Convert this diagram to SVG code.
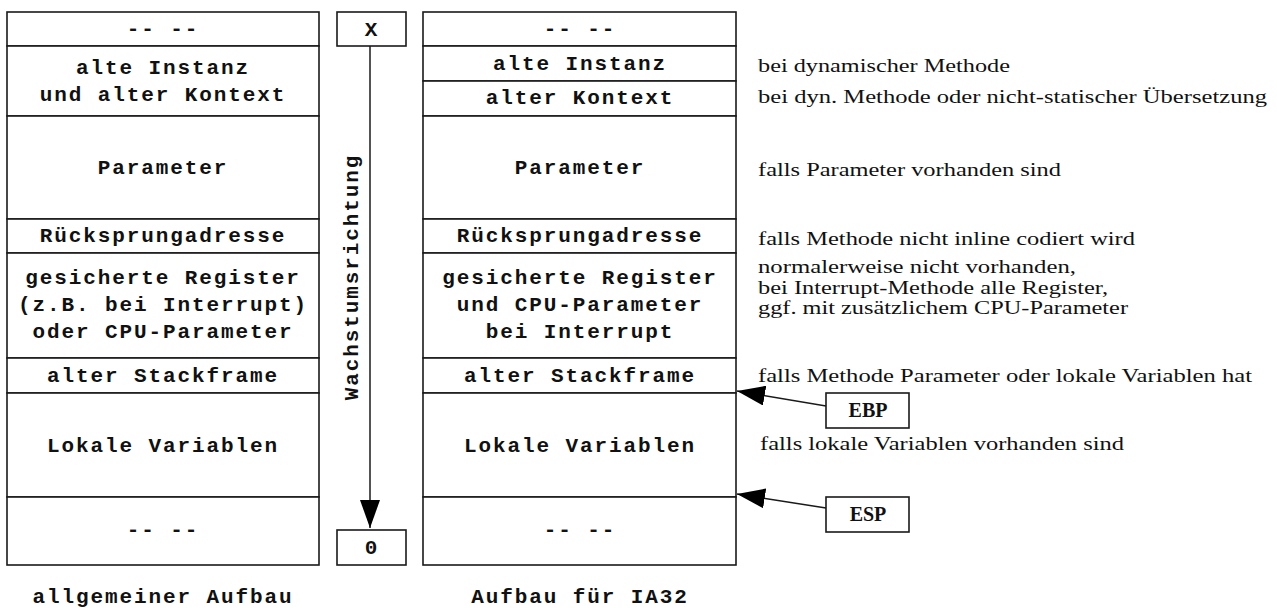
<svg xmlns="http://www.w3.org/2000/svg" width="1277" height="608" viewBox="0 0 1277 608">
<style>
.cell{fill:#fff;stroke:#1a1a1a;stroke-width:1.6}
.m{font-family:"Liberation Mono","Courier New",monospace;font-weight:bold;font-size:21px;letter-spacing:1.9px;fill:#111;text-anchor:middle}
.a{font-family:"Liberation Serif","Times New Roman",serif;font-size:18px;fill:#111}
.r{font-family:"Liberation Serif","Times New Roman",serif;font-weight:bold;font-size:20px;fill:#111;text-anchor:middle}
.c{stroke:#1a1a1a;stroke-width:1.5;fill:none}
</style>
<defs>
<marker id="ah" markerUnits="userSpaceOnUse" markerWidth="28" markerHeight="20" refX="28" refY="10" orient="auto" viewBox="0 0 28 20">
<path d="M0,0 L28,10 L0,20 z" fill="#000"/>
</marker>
</defs>
<rect width="1277" height="608" fill="#fff"/>

<g id="left-column">
<g id="l-top"><rect class="cell" x="7" y="12" width="312" height="34"/><text class="m" x="163" y="35">-- --</text></g>
<g id="l-instanz"><rect class="cell" x="7" y="46" width="312" height="70"/><text class="m" x="163" y="74">alte Instanz</text><text class="m" x="163" y="101">und alter Kontext</text></g>
<g id="l-parameter"><rect class="cell" x="7" y="116" width="312" height="103"/><text class="m" x="163" y="174">Parameter</text></g>
<g id="l-ruecksprung"><rect class="cell" x="7" y="219" width="312" height="34"/><text class="m" x="163" y="242">Rücksprungadresse</text></g>
<g id="l-register"><rect class="cell" x="7" y="253" width="312" height="105"/><text class="m" x="163" y="284">gesicherte Register</text><text class="m" x="163" y="311">(z.B. bei Interrupt)</text><text class="m" x="163" y="338">oder CPU-Parameter</text></g>
<g id="l-stackframe"><rect class="cell" x="7" y="358" width="312" height="35"/><text class="m" x="163" y="382">alter Stackframe</text></g>
<g id="l-lokale"><rect class="cell" x="7" y="393" width="312" height="104"/><text class="m" x="163" y="452">Lokale Variablen</text></g>
<g id="l-bottom"><rect class="cell" x="7" y="497" width="312" height="68"/><text class="m" x="163" y="536">-- --</text></g>
<text class="m" x="163" y="603">allgemeiner Aufbau</text>
</g>

<g id="growth">
<g id="box-x"><rect class="cell" x="337" y="12" width="69" height="34"/><text class="m" x="372" y="36">X</text></g>
<g id="box-0"><rect class="cell" x="337" y="530" width="69" height="35"/><text class="m" x="372" y="554">0</text></g>
<text class="m" transform="translate(358,277) rotate(-90)" x="0" y="0">Wachstumsrichtung</text>
</g>

<g id="right-column">
<g id="r-top"><rect class="cell" x="423" y="12" width="313" height="34"/><text class="m" x="580" y="35">-- --</text></g>
<g id="r-instanz"><rect class="cell" x="423" y="46" width="313" height="35"/><text class="m" x="580" y="70">alte Instanz</text></g>
<g id="r-kontext"><rect class="cell" x="423" y="81" width="313" height="35"/><text class="m" x="580" y="104">alter Kontext</text></g>
<g id="r-parameter"><rect class="cell" x="423" y="116" width="313" height="103"/><text class="m" x="580" y="174">Parameter</text></g>
<g id="r-ruecksprung"><rect class="cell" x="423" y="219" width="313" height="34"/><text class="m" x="580" y="242">Rücksprungadresse</text></g>
<g id="r-register"><rect class="cell" x="423" y="253" width="313" height="105"/><text class="m" x="580" y="284">gesicherte Register</text><text class="m" x="580" y="311">und CPU-Parameter</text><text class="m" x="580" y="338">bei Interrupt</text></g>
<g id="r-stackframe"><rect class="cell" x="423" y="358" width="313" height="35"/><text class="m" x="580" y="382">alter Stackframe</text></g>
<g id="r-lokale"><rect class="cell" x="423" y="393" width="313" height="104"/><text class="m" x="580" y="452">Lokale Variablen</text></g>
<g id="r-bottom"><rect class="cell" x="423" y="497" width="313" height="68"/><text class="m" x="580" y="536">-- --</text></g>
<text class="m" x="580" y="603">Aufbau für IA32</text>
</g>

<g id="annotations">
<text class="a" x="758" y="72" textLength="252" lengthAdjust="spacingAndGlyphs">bei dynamischer Methode</text>
<text class="a" x="758" y="103" textLength="509" lengthAdjust="spacingAndGlyphs">bei dyn. Methode oder nicht-statischer Übersetzung</text>
<text class="a" x="758" y="176" textLength="303" lengthAdjust="spacingAndGlyphs">falls Parameter vorhanden sind</text>
<text class="a" x="758" y="245" textLength="377" lengthAdjust="spacingAndGlyphs">falls Methode nicht inline codiert wird</text>
<text class="a" x="758" y="273" textLength="318" lengthAdjust="spacingAndGlyphs">normalerweise nicht vorhanden,</text>
<text class="a" x="758" y="294" textLength="350" lengthAdjust="spacingAndGlyphs">bei Interrupt-Methode alle Register,</text>
<text class="a" x="758" y="314" textLength="370" lengthAdjust="spacingAndGlyphs">ggf. mit zusätzlichem CPU-Parameter</text>
<text class="a" x="758" y="382" textLength="494" lengthAdjust="spacingAndGlyphs">falls Methode Parameter oder lokale Variablen hat</text>
<text class="a" x="760" y="450" textLength="364" lengthAdjust="spacingAndGlyphs">falls lokale Variablen vorhanden sind</text>
</g>

<g id="ebp"><rect class="cell" x="826" y="393" width="83" height="35"/><text class="r" x="868" y="417">EBP</text></g>
<g id="esp"><rect class="cell" x="826" y="497" width="83" height="35"/><text class="r" x="868" y="521">ESP</text></g>

<g id="connectors">
<line class="c" x1="370" y1="46" x2="370" y2="528" marker-end="url(#ah)"/>
<line class="c" x1="826" y1="406" x2="737" y2="391" marker-end="url(#ah)"/>
<line class="c" x1="826" y1="508" x2="737" y2="494" marker-end="url(#ah)"/>
</g>
</svg>
